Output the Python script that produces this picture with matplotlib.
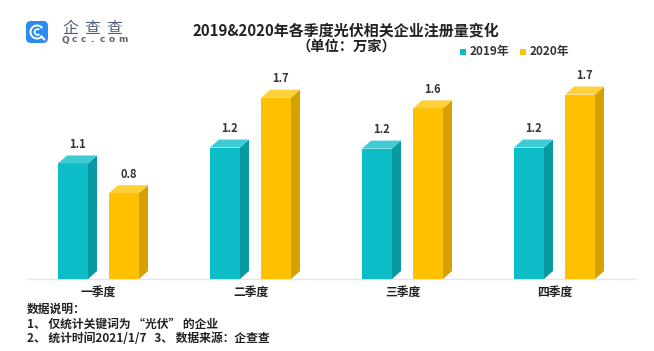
import matplotlib
matplotlib.use("Agg")
import matplotlib.pyplot as plt
from matplotlib.patches import Polygon, FancyBboxPatch, Wedge, Rectangle

plt.rcParams['font.family'] = ['Noto Sans CJK SC', 'DejaVu Sans']

categories = ['一季度', '二季度', '三季度', '四季度']
series_names = ['2019年', '2020年']
values_2019 = [1.09, 1.24, 1.23, 1.24]
values_2020 = [0.81, 1.71, 1.61, 1.74]
title = '2019&2020年各季度光伏相关企业注册量变化'
subtitle = '（单位：万家）'
notes = ['数据说明：', '1、 仅统计关键词为 “光伏” 的企业', '2、 统计时间2021/1/7   3、 数据来源：企查查']

W, H = 654, 351
fig = plt.figure(figsize=(W / 100, H / 100), dpi=100)
fig.patch.set_facecolor('white')

def fx(px):
    return px / W

def fy(py):
    return 1 - py / H

ax_left, ax_right = 27, 636
ax_top, ax_bottom = 55, 279
ax = fig.add_axes([fx(ax_left), fy(ax_bottom), fx(ax_right) - fx(ax_left), fy(ax_top) - fy(ax_bottom)])
px_per_x = 152.0
px_per_y = 106.0
x0_px = 98.5
ax.set_xlim((ax_left - x0_px) / px_per_x, (ax_right - x0_px) / px_per_x)
ax.set_ylim(0, (ax_bottom - ax_top) / px_per_y)
for s in ['top', 'right', 'left']:
    ax.spines[s].set_visible(False)
ax.spines['bottom'].set_color('#e6e6e6')
ax.spines['bottom'].set_linewidth(1.0)
ax.set_yticks([])
ax.set_xticks(range(len(categories)))
ax.set_xticklabels(categories, fontsize=8.5, fontweight='bold', color='#222222')
ax.tick_params(axis='x', length=0, pad=5)

bw = 30 / px_per_x
off = 25.5 / px_per_x
dx = 9 / px_per_x
dy = 8 / px_per_y

colors = {
    '2019年': ('#0cbcc7', '#0a98a2', '#3fcbd3'),
    '2020年': ('#ffc000', '#d6a000', '#ffd03a'),
}

def bar3d(c, h, cols):
    front, side, top = cols
    l, r = c - bw / 2, c + bw / 2
    ax.bar(c, h, width=bw, color=front, linewidth=0, zorder=3)
    ax.add_patch(Polygon([(r, 0), (r + dx, dy), (r + dx, h + dy), (r, h)],
                         closed=True, facecolor=side, edgecolor='none', zorder=3))
    ax.add_patch(Polygon([(l, h), (l + dx, h + dy), (r + dx, h + dy), (r, h)],
                         closed=True, facecolor=top, edgecolor='none', zorder=3))
    ax.text(c + dx / 2, h + dy + 11 / px_per_y, f'{h:.1f}', ha='center', va='center',
            fontsize=8, fontweight='bold', color='#333333', zorder=4)

for i in range(len(categories)):
    bar3d(i - off, values_2019[i], colors['2019年'])
    bar3d(i + off, values_2020[i], colors['2020年'])

# Title
fig.text(fx(346), fy(30), title, ha='center', va='center', fontsize=10.8,
         fontweight='bold', color='#222222')
fig.text(fx(346), fy(47), subtitle, ha='center', va='center', fontsize=10.3,
         fontweight='bold', color='#222222')

# Legend
fig.patches.append(Rectangle((fx(460), fy(55)), fx(6), 6 / H, transform=fig.transFigure,
                             facecolor=colors['2019年'][0], edgecolor='none'))
fig.text(fx(470), fy(52), series_names[0], ha='left', va='center', fontsize=8.5,
         fontweight='bold', color='#333333')
fig.patches.append(Rectangle((fx(520), fy(55)), fx(6), 6 / H, transform=fig.transFigure,
                             facecolor=colors['2020年'][0], edgecolor='none'))
fig.text(fx(530), fy(52), series_names[1], ha='left', va='center', fontsize=8.5,
         fontweight='bold', color='#333333')

# Notes
note_y = [309, 324, 339]
for t, y in zip(notes, note_y):
    fig.text(fx(27), fy(y), t, ha='left', va='center', fontsize=8.5,
             fontweight='bold', color='#222222')

# Logo
lax = fig.add_axes([fx(26), fy(43), fx(22), 22 / H], zorder=5)
lax.set_xlim(0, 1)
lax.set_ylim(0, 1)
lax.axis('off')
lax.add_patch(FancyBboxPatch((0.0, 0.0), 1.0, 1.0, boxstyle='round,pad=0,rounding_size=0.22',
                             facecolor='#2a8cf0', edgecolor='none'))
lax.add_patch(Wedge((0.5, 0.5), 0.34, 35, 325, width=0.09, facecolor='white', edgecolor='none'))
lax.add_patch(Wedge((0.52, 0.5), 0.17, 50, 315, width=0.08, facecolor='white', edgecolor='none'))
lax.plot([0.68, 0.84], [0.3, 0.16], color='white', lw=1.5, solid_capstyle='round')

for k, ch in enumerate('企查查'):
    fig.text(fx(62 + 22 * k), fy(28), ch, ha='left', va='center', fontsize=11.5, color='#4d5f7a')
for k, ch in enumerate('Qcc.com'):
    fig.text(fx(62 + 9.3 * k), fy(40), ch, ha='left', va='center', fontsize=6.5,
             fontweight='bold', color='#5a6272', family=['DejaVu Sans'])

fig.savefig('out.png', dpi=100, facecolor='white')
